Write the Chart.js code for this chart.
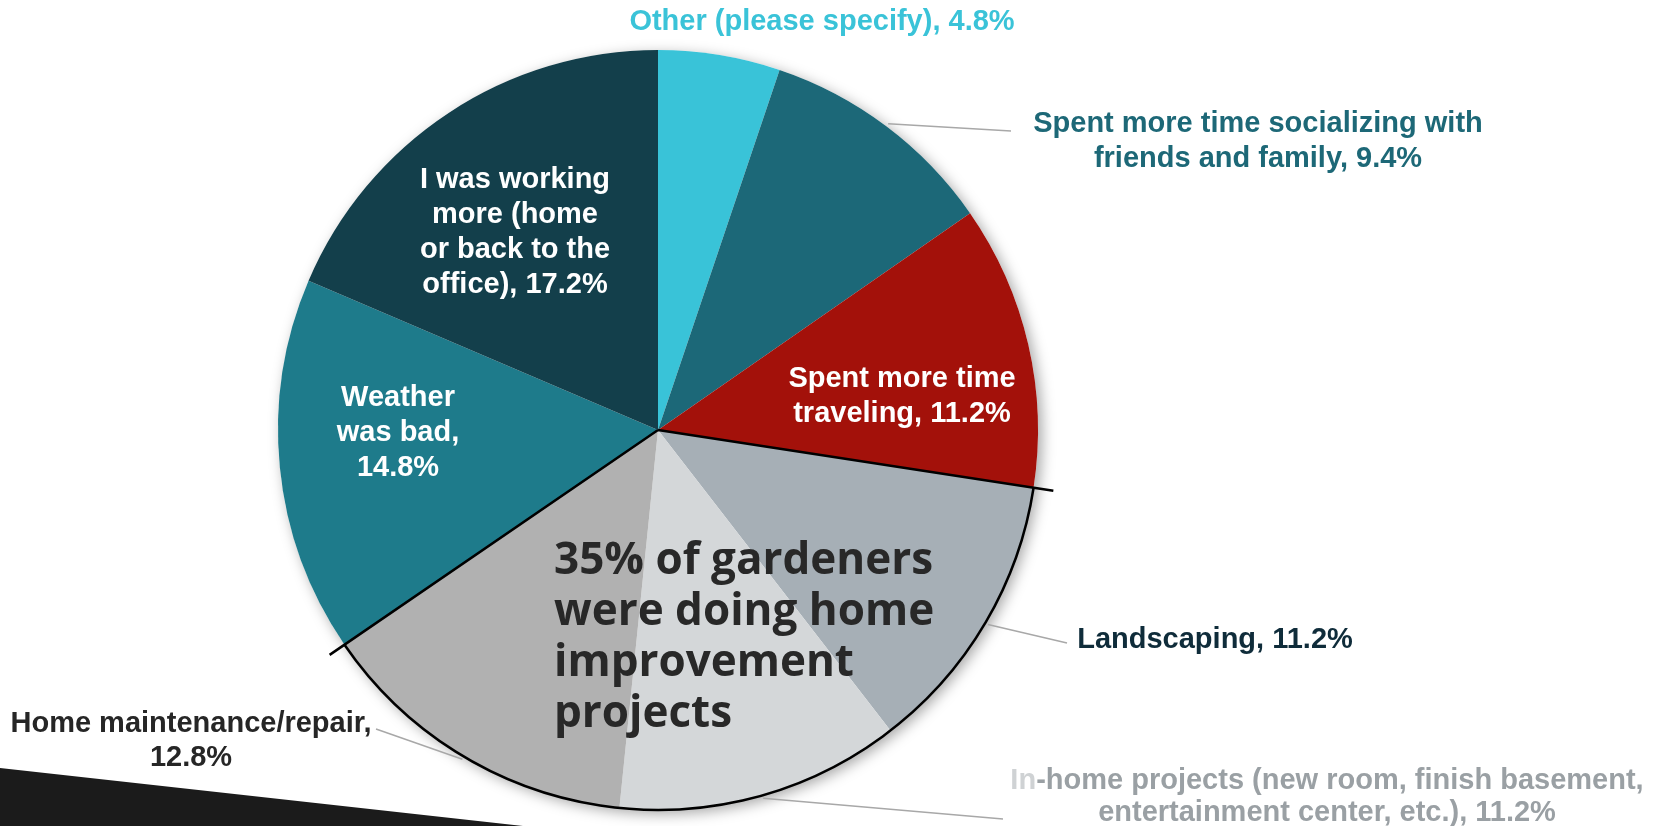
<!DOCTYPE html>
<html>
<head>
<meta charset="utf-8">
<title>Gardeners pie</title>
<script src="https://cdn.jsdelivr.net/npm/chart.js"></script>
<style>
	body { margin: 0; background: #fff; }
	#wrap { width: 1673px; height: 826px; position: relative; }
</style>
</head>
<body>
<div id="wrap"><canvas id="pie"></canvas></div>
<script>
	// data (shares do not add to 100, the pie normalises them)
	const categories = [
		'Other (please specify)',
		'Spent more time socializing with friends and family',
		'Spent more time traveling',
		'Landscaping',
		'In-home projects (new room, finish basement, entertainment center, etc.)',
		'Home maintenance/repair',
		'Weather was bad',
		'I was working more (home or back to the office)'
	];
	const shares = [4.8, 9.4, 11.2, 11.2, 11.2, 12.8, 14.8, 17.2];
	const labelLines = [
		['Other (please specify), 4.8%'],
		['Spent more time socializing with', 'friends and family, 9.4%'],
		['Spent more time', 'traveling, 11.2%'],
		['Landscaping, 11.2%'],
		['In-home projects (new room, finish basement,', 'entertainment center, etc.), 11.2%'],
		['Home maintenance/repair,', '12.8%'],
		['Weather', 'was bad,', '14.8%'],
		['I was working', 'more (home', 'or back to the', 'office), 17.2%']
	];
	const calloutLines = ['35% of gardeners', 'were doing home', 'improvement', 'projects'];
	const groupSlices = [3, 4, 5]; // the home improvement group that gets the black outline

	const sliceColors = ['#39c3d8', '#1c6878', '#a3110a', '#a6afb6', '#d4d7d9', '#b1b1b1', '#1e7b8b', '#133f4b'];

	// where each label sits, relative to the pie centre
	const labelPos = [
		{ dx: 164, dy: -408, lh: 35, color: '#3ac3d8' },
		{ dx: 600, dy: -306, lh: 35, color: '#1d6877', lead: [353, -299] },
		{ dx: 244, dy: -51, lh: 35, color: '#ffffff' },
		{ dx: 557, dy: 210, lh: 35, color: '#0f2c3a', lead: [409, 213] },
		{ dx: 669, dy: 351, lh: 32, color: '#9aa0a4', lead: [345, 389], fade: 'In' },
		{ dx: -467, dy: 294, lh: 34, color: '#262626', lead: [-282, 299] },
		{ dx: -260, dy: -32, lh: 35, color: '#ffffff' },
		{ dx: -143, dy: -250, lh: 35, color: '#ffffff' }
	];

	const labelFont = 'bold 29px "Liberation Sans", Arial, sans-serif';

	const decorPlugin = {
		id: 'decor',
		beforeDraw(chart) {
			const ctx = chart.ctx;
			ctx.save();
			ctx.fillStyle = '#ffffff';
			ctx.fillRect(0, 0, chart.width, chart.height);
			// dark slide band in the bottom left corner
			ctx.fillStyle = '#1b1b1b';
			ctx.beginPath();
			ctx.moveTo(0, chart.height - 58);
			ctx.lineTo(523, chart.height);
			ctx.lineTo(0, chart.height);
			ctx.closePath();
			ctx.fill();
			ctx.restore();
		},
		beforeDatasetsDraw(chart) {
			const a = chart.getDatasetMeta(0).data[0];
			const ctx = chart.ctx;
			ctx.save();
			ctx.shadowColor = 'rgba(0,0,0,0.35)';
			ctx.shadowBlur = 14;
			ctx.shadowOffsetX = 4;
			ctx.shadowOffsetY = 4;
			ctx.fillStyle = '#ffffff';
			ctx.beginPath();
			ctx.arc(a.x, a.y, a.outerRadius, 0, Math.PI * 2);
			ctx.fill();
			ctx.restore();
		},
		afterDatasetsDraw(chart) {
			const arcs = chart.getDatasetMeta(0).data;
			const ctx = chart.ctx;
			const cx = arcs[0].x, cy = arcs[0].y, r = arcs[0].outerRadius;
			ctx.save();

			// black outline around the home improvement slices
			const s = arcs[groupSlices[0]].startAngle;
			const e = arcs[groupSlices[groupSlices.length - 1]].endAngle;
			ctx.strokeStyle = '#000';
			ctx.lineWidth = 2.5;
			ctx.beginPath();
			ctx.moveTo(cx, cy);
			ctx.lineTo(cx + Math.cos(s) * (r + 20), cy + Math.sin(s) * (r + 20));
			ctx.moveTo(cx, cy);
			ctx.lineTo(cx + Math.cos(e) * (r + 18), cy + Math.sin(e) * (r + 18));
			ctx.stroke();
			ctx.beginPath();
			ctx.arc(cx, cy, r, s, e);
			ctx.stroke();

			// leader lines
			ctx.strokeStyle = '#a8a8a8';
			ctx.lineWidth = 1.5;
			arcs.forEach((arc, i) => {
				const p = labelPos[i];
				if (!p.lead) return;
				const mid = (arc.startAngle + arc.endAngle) / 2;
				ctx.beginPath();
				ctx.moveTo(cx + Math.cos(mid) * (r + 3), cy + Math.sin(mid) * (r + 3));
				ctx.lineTo(cx + p.lead[0], cy + p.lead[1]);
				ctx.stroke();
			});

			// slice labels
			ctx.font = labelFont;
			ctx.textBaseline = 'middle';
			labelLines.forEach((lines, i) => {
				const p = labelPos[i];
				lines.forEach((txt, k) => {
					const x = cx + p.dx, y = cy + p.dy + k * p.lh;
					if (p.fade && k === 0 && txt.startsWith(p.fade)) {
						const w = ctx.measureText(txt).width;
						const wf = ctx.measureText(p.fade).width;
						ctx.textAlign = 'left';
						ctx.fillStyle = '#cfd2d4';
						ctx.fillText(p.fade, x - w / 2, y);
						ctx.fillStyle = p.color;
						ctx.fillText(txt.slice(p.fade.length), x - w / 2 + wf, y);
					} else {
						ctx.textAlign = 'center';
						ctx.fillStyle = p.color;
						ctx.fillText(txt, x, y);
					}
				});
			});

			// big callout text
			ctx.font = 'bold 44px "Open Sans", sans-serif';
			ctx.fillStyle = '#282828';
			ctx.textAlign = 'left';
			calloutLines.forEach((txt, k) => {
				ctx.fillText(txt, cx - 104, cy + 131 + k * 51);
			});
			ctx.restore();
		}
	};

	new Chart(document.getElementById('pie'), {
		type: 'pie',
		data: {
			labels: categories,
			datasets: [{
				data: shares,
				backgroundColor: sliceColors,
				borderWidth: 0
			}]
		},
		options: {
			responsive: true,
			maintainAspectRatio: false,
			animation: false,
			layout: { padding: { left: 278, right: 635, top: 50, bottom: 16 } },
			plugins: {
				legend: { display: false },
				tooltip: { enabled: false }
			}
		},
		plugins: [decorPlugin]
	});
</script>
</body>
</html>
